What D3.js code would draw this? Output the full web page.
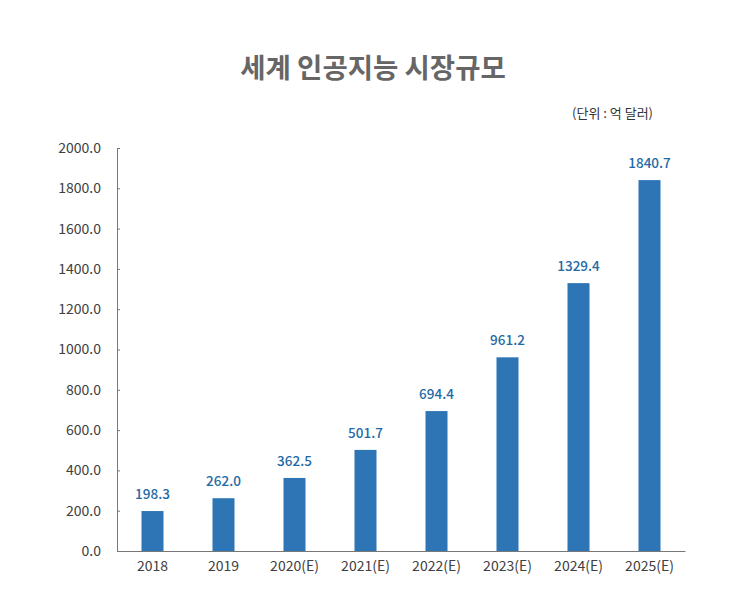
<!DOCTYPE html>
<html>
<head>
<meta charset="utf-8">
<script src="https://cdn.jsdelivr.net/npm/d3@7"></script>
<style>
  body { margin: 0; background: #fff; }
  text { font-family: "Noto Sans CJK KR", "Noto Sans", sans-serif; }
</style>
</head>
<body>
<div id="chart"></div>
<script>
const years = ['2018', '2019', '2020(E)', '2021(E)', '2022(E)', '2023(E)', '2024(E)', '2025(E)'];
const values = [198.3, 262.0, 362.5, 501.7, 694.4, 961.2, 1329.4, 1840.7];
const yTicks = [0, 200, 400, 600, 800, 1000, 1200, 1400, 1600, 1800, 2000];

const margin = {top: 148, right: 62, bottom: 56, left: 117},
      width = 747 - margin.left - margin.right,
      height = 607 - margin.top - margin.bottom;

const svg = d3.select('#chart').append('svg')
    .attr('width', 747)
    .attr('height', 607);

svg.append('text')
    .attr('x', 373)
    .attr('y', 78)
    .attr('text-anchor', 'middle')
    .style('font-size', '27.5px')
    .style('font-weight', 'bold')
    .style('fill', '#666')
    .text('세계 인공지능 시장규모');

svg.append('text')
    .attr('x', 653)
    .attr('y', 118)
    .attr('text-anchor', 'end')
    .style('font-size', '13px')
    .style('fill', '#333')
    .text('(단위 : 억 달러)');

const g = svg.append('g')
    .attr('transform', `translate(${margin.left},${margin.top})`);

const x = d3.scaleBand()
    .domain(years)
    .range([0, width])
    .paddingInner(0.69)
    .paddingOuter(0.345);

const y = d3.scaleLinear()
    .domain([0, 2000])
    .range([height, 0]);

// y axis, ticks pointing inward
const yAxis = g.append('g')
    .call(d3.axisRight(y).tickValues(yTicks).tickSize(3).tickFormat(d3.format('.1f')));
yAxis.select('.domain').attr('stroke', '#777');
yAxis.selectAll('.tick line').attr('stroke', '#777');
yAxis.selectAll('.tick text')
    .attr('x', -16)
    .attr('text-anchor', 'end')
    .style('font-size', '14px')
    .style('fill', '#404040');

g.selectAll('.bar')
    .data(values)
  .enter().append('rect')
    .attr('class', 'bar')
    .attr('x', (d, i) => x(years[i]))
    .attr('y', d => y(d))
    .attr('width', x.bandwidth())
    .attr('height', d => height - y(d))
    .attr('fill', '#2e75b6');

g.selectAll('.label')
    .data(values)
  .enter().append('text')
    .attr('class', 'label')
    .attr('x', (d, i) => x(years[i]) + x.bandwidth() / 2)
    .attr('y', d => y(d) - 12)
    .attr('text-anchor', 'middle')
    .style('font-size', '13.5px')
    .style('font-weight', '500')
    .style('fill', '#1f6aa5')
    .text(d => d.toFixed(1));

const xAxis = g.append('g')
    .attr('transform', `translate(0,${height})`)
    .call(d3.axisBottom(x).tickSize(0).tickSizeOuter(0));
xAxis.select('.domain').attr('stroke', '#777');
xAxis.selectAll('.tick text')
    .attr('dy', '0.71em')
    .attr('y', 10)
    .style('font-size', '14px')
    .style('fill', '#404040');
</script>
</body>
</html>
